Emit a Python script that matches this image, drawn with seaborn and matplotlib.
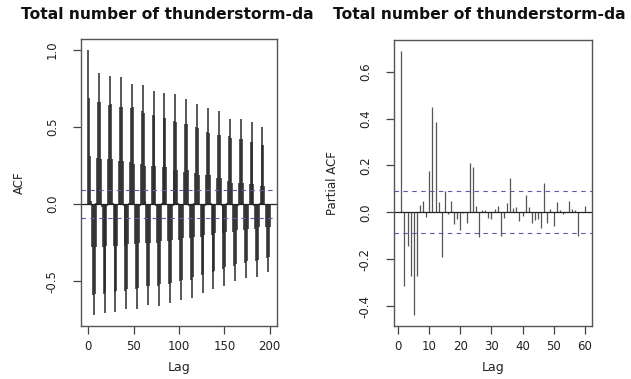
import numpy as np
import pandas as pd
import matplotlib
matplotlib.use("Agg")
import matplotlib.pyplot as plt
import seaborn as sns

# ---- data ----
acf_values = [
    1.00, 0.69, 0.31, 0.02, -0.28, -0.59, -0.72, -0.58, -0.28, 0.01, 0.30, 0.66,
    0.85, 0.66, 0.29, -0.02, -0.28, -0.58, -0.705, -0.57, -0.27, -0.01, 0.29, 0.64,
    0.83, 0.65, 0.29, 0.01, -0.27, -0.57, -0.70, -0.56, -0.27, 0.00, 0.28, 0.63,
    0.82, 0.63, 0.28, -0.01, -0.27, -0.56, -0.68, -0.55, -0.26, 0.01, 0.27, 0.62,
    0.78, 0.63, 0.26, 0.00, -0.26, -0.55, -0.68, -0.54, -0.25, -0.01, 0.26, 0.60,
    0.77, 0.59, 0.25, 0.02, -0.25, -0.53, -0.65, -0.53, -0.25, 0.00, 0.25, 0.58,
    0.73, 0.57, 0.25, -0.01, -0.25, -0.53, -0.66, -0.52, -0.24, 0.01, 0.24, 0.56,
    0.72, 0.56, 0.24, 0.00, -0.24, -0.52, -0.64, -0.51, -0.23, -0.01, 0.22, 0.54,
    0.71, 0.53, 0.22, 0.01, -0.23, -0.50, -0.62, -0.49, -0.22, 0.00, 0.21, 0.52,
    0.68, 0.52, 0.22, -0.01, -0.22, -0.49, -0.61, -0.47, -0.21, 0.01, 0.20, 0.50,
    0.65, 0.49, 0.19, 0.00, -0.21, -0.46, -0.575, -0.45, -0.20, -0.01, 0.19, 0.47,
    0.62, 0.46, 0.19, 0.01, -0.20, -0.44, -0.55, -0.43, -0.19, 0.00, 0.17, 0.45,
    0.60, 0.45, 0.17, -0.01, -0.19, -0.42, -0.53, -0.41, -0.18, 0.01, 0.15, 0.44,
    0.55, 0.43, 0.14, 0.00, -0.18, -0.40, -0.50, -0.39, -0.17, -0.01, 0.14, 0.42,
    0.55, 0.42, 0.14, 0.01, -0.17, -0.38, -0.48, -0.37, -0.16, 0.00, 0.13, 0.40,
    0.53, 0.40, 0.13, -0.01, -0.16, -0.37, -0.47, -0.36, -0.15, 0.01, 0.12, 0.38,
    0.50, 0.38, 0.12, 0.00, -0.15, -0.35, -0.44, -0.34, -0.15,
]
acf_lags = list(range(len(acf_values)))  # 0..200

pacf_values = [
    0.69, -0.315, -0.144, -0.27, -0.44, -0.27, 0.03, 0.047, -0.02, 0.175,
    0.45, 0.387, 0.046, -0.19, 0.093, -0.007, 0.05, -0.052, -0.03, -0.076,
    -0.005, -0.045, 0.21, 0.193, 0.028, -0.104, 0.011, 0.011, -0.024, -0.028,
    0.015, 0.028, -0.10, -0.024, 0.04, 0.145, 0.018, 0.022, -0.038, -0.014,
    0.075, 0.022, -0.045, -0.034, -0.028, -0.066, 0.127, -0.045, 0.014, -0.06,
    0.042, 0.011, -0.006, 0.003, 0.049, 0.014, 0.008, -0.101, 0.0, 0.025,
]
pacf_lags = list(range(1, len(pacf_values) + 1))  # 1..60

conf_limit = 0.09
title_text = "Total number of thunderstorm-da"
acf_xticks = [0, 50, 100, 150, 200]
acf_yticks = [-0.5, 0.0, 0.5, 1.0]
pacf_xticks = [0, 10, 20, 30, 40, 50, 60]
pacf_yticks = [-0.4, -0.2, 0.0, 0.2, 0.4, 0.6]

acf_df = pd.DataFrame({"Lag": acf_lags, "ACF": acf_values})
pacf_df = pd.DataFrame({"Lag": pacf_lags, "PACF": pacf_values})

sns.set_theme(style="white")
plt.rcParams["font.family"] = ["DejaVu Sans"]

W, H = 631, 379
fig = plt.figure(figsize=(W / 100, H / 100), dpi=100)
fig.patch.set_facecolor("white")

ax1 = fig.add_axes([81 / W, 1 - 326 / H, 196 / W, 287 / H])
ax2 = fig.add_axes([394 / W, 1 - 326 / H, 198 / W, 286 / H])


def style_axes(ax, xticks, yticks, xlim, ylim, ylabel):
    ax.set_xlim(*xlim)
    ax.set_ylim(*ylim)
    ax.set_xticks(xticks)
    ax.set_yticks(yticks)
    ax.set_xticklabels([f"{t:g}" for t in xticks], fontsize=8.5, color="#222222")
    ax.set_yticklabels([f"{t:.1f}" for t in yticks], fontsize=8.5, color="#222222",
                       rotation=90, va="center")
    ax.tick_params(axis="both", direction="out", length=6, width=0.9,
                   color="#444444", bottom=True, left=True)
    ax.tick_params(axis="x", pad=4)
    ax.tick_params(axis="y", pad=10)
    for s in ax.spines.values():
        s.set_color("#555555")
        s.set_linewidth(1.0)
    ax.set_xlabel("Lag", fontsize=9, color="#222222", labelpad=6)
    ax.set_ylabel(ylabel, fontsize=8.5, color="#222222", labelpad=14)
    ax.set_facecolor("white")


# ACF panel
ax1.vlines(acf_df["Lag"], 0, acf_df["ACF"], color="#2a2a2a", linewidth=1.1)
ax1.axhline(0, color="#222222", linewidth=0.9)
for c in (conf_limit, -conf_limit):
    ax1.axhline(c, color="#5a5ab0", linewidth=0.8, linestyle=(0, (4, 4)))
style_axes(ax1, acf_xticks, acf_yticks, (-8, 208), (-0.789, 1.069), "ACF")

# PACF panel
ax2.vlines(pacf_df["Lag"], 0, pacf_df["PACF"], color="#555555", linewidth=0.9)
ax2.axhline(0, color="#222222", linewidth=0.9)
for c in (conf_limit, -conf_limit):
    ax2.axhline(c, color="#5a5ab0", linewidth=0.8, linestyle=(0, (4, 4)))
style_axes(ax2, pacf_xticks, pacf_yticks, (1 - 2.36, 60 + 2.36), (-0.485, 0.735),
           "Partial ACF")

# Titles (clipped by the panel region in the reference)
fig.text(20.7 / W, 1 - 14.5 / H, title_text, fontsize=11.2, fontweight="bold",
         ha="left", va="center", color="#111111")
fig.text(333 / W, 1 - 14.5 / H, title_text, fontsize=11.2, fontweight="bold",
         ha="left", va="center", color="#111111")

fig.savefig("out.png", dpi=100, facecolor="white")
